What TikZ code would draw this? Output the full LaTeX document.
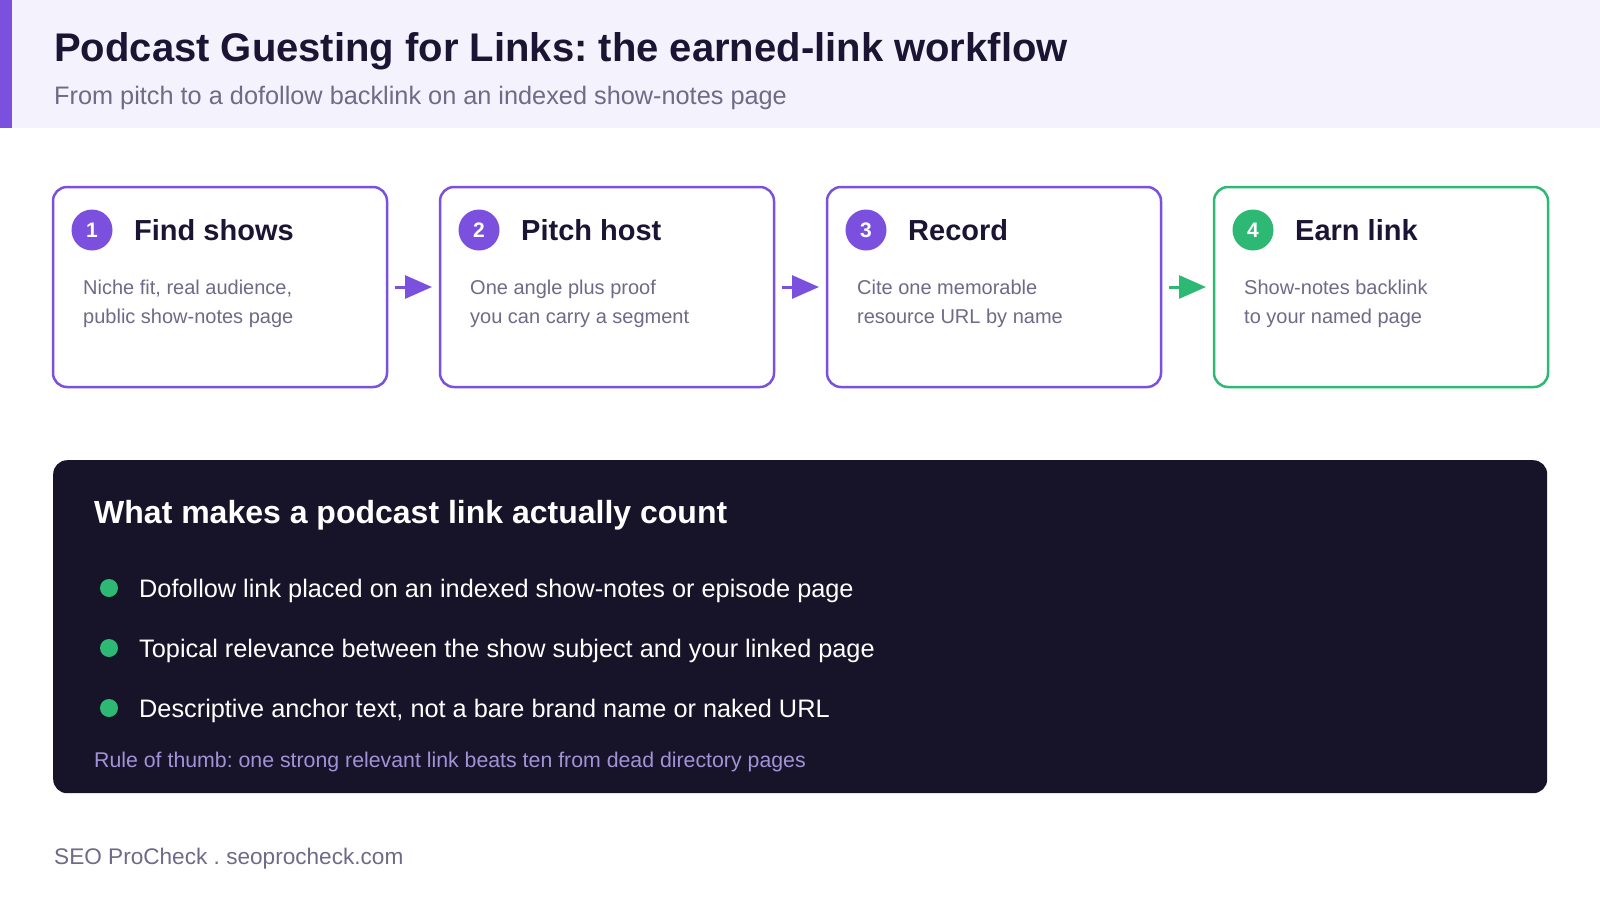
\documentclass[tikz,border=0pt]{standalone}
\usepackage{fontspec}
\setmainfont{Liberation Sans}
\usetikzlibrary{arrows.meta,positioning}
\definecolor{brandpurple}{HTML}{7B50DE}
\definecolor{brandgreen}{HTML}{2DB873}
\definecolor{headbg}{HTML}{F4F2FD}
\definecolor{inkdark}{HTML}{1B1533}
\definecolor{inkgray}{HTML}{6E6A87}
\definecolor{panelink}{HTML}{17142A}
\definecolor{rulelav}{HTML}{A293D6}
\newcommand{\setsz}[2]{\fontsize{#1}{#2}\selectfont}
\frenchspacing

\begin{document}
\begin{tikzpicture}[x=1pt,y=-1pt,
  stepbox/.style={draw=brandpurple,line width=2.5pt,rounded corners=14pt,minimum width=334pt,minimum height=200pt,inner sep=0pt,outer sep=0pt},
  lastbox/.style={stepbox,draw=brandgreen},
  num/.style={circle,fill=brandpurple,text=white,minimum size=41pt,inner sep=0pt,font=\bfseries\setsz{21}{21}},
  head/.style={anchor=base west,inner sep=0pt,text=inkdark,font=\bfseries\setsz{29}{29}},
  desc/.style={anchor=base west,inner sep=0pt,align=left,text=inkgray,font=\setsz{20}{29}},
  ar/.style={-{Triangle[length=27pt,width=23pt]},line width=3pt,draw=brandpurple,shorten <=8pt,shorten >=8pt},
  gdot/.style={circle,fill=brandgreen,minimum size=18pt,inner sep=0pt},
  point/.style={anchor=base west,inner sep=0pt,text=white,font=\setsz{25.3}{30}}]
\fill[white] (0,0) rectangle (1600,900);
\useasboundingbox (0,0) rectangle (1600,900);
% header band
\node[fill=headbg,minimum width=1600pt,minimum height=128pt,inner sep=0pt,anchor=north west] (band) at (0,0) {};
\node[fill=brandpurple,minimum width=12pt,minimum height=128pt,inner sep=0pt,anchor=north west] (bar) at (0,0) {};
\node[anchor=base west,inner sep=0pt,text=inkdark,font=\bfseries\setsz{40}{40}] (title) at (54,61) {Podcast Guesting for Links: the earned-link workflow};
\node[anchor=base west,inner sep=0pt,text=inkgray,font=\setsz{25.3}{30}] (sub) at (54,104) {From pitch to a dofollow backlink on an indexed show-notes page};
% the four steps
\node[stepbox,anchor=north west] (box1) at (53,187) {};
\node[stepbox,right=53pt of box1] (box2) {};
\node[stepbox,right=53pt of box2] (box3) {};
\node[lastbox,right=53pt of box3] (box4) {};
\node[num] (n1) at ([shift={(39,43)}]box1.north west) {1};
\node[head] (h1) at ([shift={(81,53)}]box1.north west) {Find shows};
\node[desc] (d1) at ([shift={(30,136)}]box1.north west) {Niche fit, real audience,\\public show-notes page};
\node[num] (n2) at ([shift={(39,43)}]box2.north west) {2};
\node[head] (h2) at ([shift={(81,53)}]box2.north west) {Pitch host};
\node[desc] (d2) at ([shift={(30,136)}]box2.north west) {One angle plus proof\\you can carry a segment};
\node[num] (n3) at ([shift={(39,43)}]box3.north west) {3};
\node[head] (h3) at ([shift={(81,53)}]box3.north west) {Record};
\node[desc] (d3) at ([shift={(30,136)}]box3.north west) {Cite one memorable\\resource URL by name};
\node[num,fill=brandgreen] (n4) at ([shift={(39,43)}]box4.north west) {4};
\node[head] (h4) at ([shift={(81,53)}]box4.north west) {Earn link};
\node[desc] (d4) at ([shift={(30,136)}]box4.north west) {Show-notes backlink\\to your named page};
\draw[ar] (box1) -- (box2);
\draw[ar] (box2) -- (box3);
\draw[ar,draw=brandgreen] (box3) -- (box4);
% what counts
\node[fill=panelink,rounded corners=14pt,minimum width=1494pt,minimum height=333pt,inner sep=0pt,anchor=north west] (panel) at (53,460) {};
\node[anchor=base west,inner sep=0pt,text=white,font=\bfseries\setsz{32}{32}] (ptitle) at (94,523) {What makes a podcast link actually count};
\node[gdot] (b1) at (109,588) {};
\node[point] (p1) at (139,597) {Dofollow link placed on an indexed show-notes or episode page};
\node[gdot] (b2) at (109,648) {};
\node[point] (p2) at (139,657) {Topical relevance between the show subject and your linked page};
\node[gdot] (b3) at (109,708) {};
\node[point] (p3) at (139,717) {Descriptive anchor text, not a bare brand name or naked URL};
\node[anchor=base west,inner sep=0pt,text=rulelav,font=\setsz{21.3}{25}] (rule) at (94,767) {Rule of thumb: one strong relevant link beats ten from dead directory pages};
\node[anchor=base west,inner sep=0pt,text=inkgray,font=\setsz{22.6}{27}] (foot) at (54,864) {SEO ProCheck . seoprocheck.com};
\end{tikzpicture}
\end{document}
